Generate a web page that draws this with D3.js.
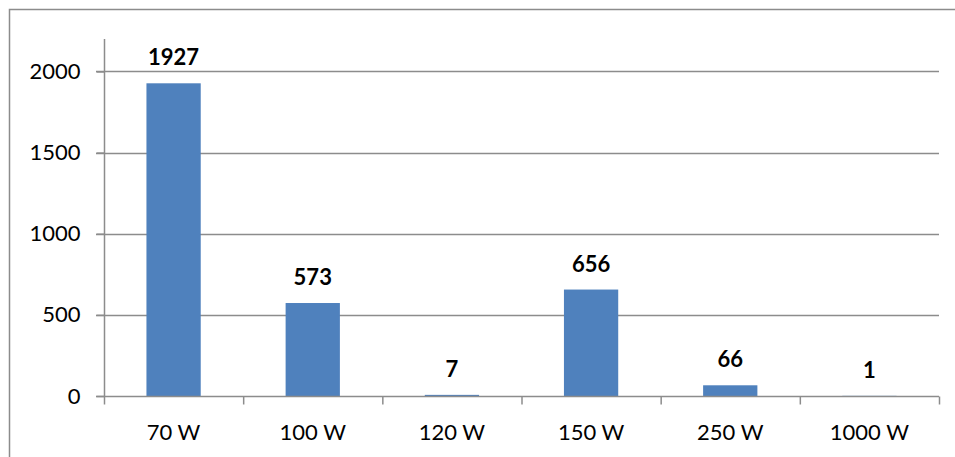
<!DOCTYPE html>
<html lang="en">
<head>
<meta charset="UTF-8">
<title>Lamp power</title>
<script src="https://cdn.jsdelivr.net/npm/d3@7/dist/d3.min.js"></script>
<style>
body{margin:0;background:#fff;}
text{font-family:Lato,"Open Sans",sans-serif;fill:#000;}
</style>
</head>
<body>
<script>
// data
var categories = ["70 W","100 W","120 W","150 W","250 W","1000 W"];
var values = [1927,573,7,656,66,1];
var yTicks = [0,500,1000,1500,2000];

var width = 955, height = 457;
var svg = d3.select("body").append("svg").attr("width",width).attr("height",height);

// outer frame
svg.append("rect").attr("x",9.5).attr("y",9.5).attr("width",width).attr("height",height)
	.attr("fill","none").attr("stroke","#8c8c8c").attr("stroke-width",1.5);

var plot = {left:104, right:939, top:39, bottom:396};
var x = d3.scaleBand().domain(categories).range([plot.left,plot.right]).paddingInner(0.61).paddingOuter(0.305);
var band = d3.scaleBand().domain(categories).range([plot.left,plot.right]);
var y = d3.scaleLinear().domain([0,2200]).range([plot.bottom,plot.top]);

// gridlines
svg.append("g").selectAll("line").data(yTicks.filter(function(d){return d>0;})).enter().append("line")
	.attr("x1",plot.left-8).attr("x2",plot.right)
	.attr("y1",function(d){return Math.round(y(d))+0.5;}).attr("y2",function(d){return Math.round(y(d))+0.5;})
	.attr("stroke","#8c8c8c").attr("stroke-width",1.5);

// bars
svg.append("g").selectAll("rect").data(values).enter().append("rect")
	.attr("x",function(d,i){return x(categories[i]);})
	.attr("width",x.bandwidth())
	.attr("y",function(d){return y(d);})
	.attr("height",function(d){return plot.bottom-y(d);})
	.attr("fill","#4f81bd");

// y axis
var yAxis = d3.axisLeft(y).tickValues(yTicks).tickFormat(d3.format("d")).tickSize(8).tickPadding(16);
var gy = svg.append("g").attr("transform","translate("+(plot.left+0.5)+",0)").call(yAxis);
gy.select(".domain").attr("d","M0,"+plot.top+"V"+plot.bottom).attr("stroke","#8c8c8c").attr("stroke-width",1.5);
gy.selectAll(".tick line").attr("stroke","#8c8c8c").attr("stroke-width",1.5);
gy.selectAll(".tick text").style("font-size","22px").style("font-family","Lato, sans-serif").attr("fill","#000");

// x axis (ticks at category boundaries)
var gx = svg.append("g").attr("transform","translate(0,"+(plot.bottom+0.5)+")");
gx.append("line").attr("x1",plot.left-8).attr("x2",plot.right).attr("stroke","#8c8c8c").attr("stroke-width",1.5);
var bounds = categories.map(function(c){return band(c);}).concat([plot.right]);
gx.selectAll("line.tk").data(bounds).enter().append("line").attr("class","tk")
	.attr("x1",function(d){return d+0.5;}).attr("x2",function(d){return d+0.5;})
	.attr("y1",0).attr("y2",8).attr("stroke","#8c8c8c").attr("stroke-width",1.5);
gx.selectAll("text").data(categories).enter().append("text")
	.attr("x",function(d){return band(d)+band.bandwidth()/2;})
	.attr("y",43).attr("text-anchor","middle").style("font-size","22px").text(function(d){return d;});

// value labels
svg.append("g").selectAll("text").data(values).enter().append("text")
	.attr("x",function(d,i){return x(categories[i])+x.bandwidth()/2;})
	.attr("y",function(d){return y(d)-18;})
	.attr("text-anchor","middle").style("font-size","22px").style("font-weight","bold")
	.text(function(d){return d;});
</script>
</body>
</html>
